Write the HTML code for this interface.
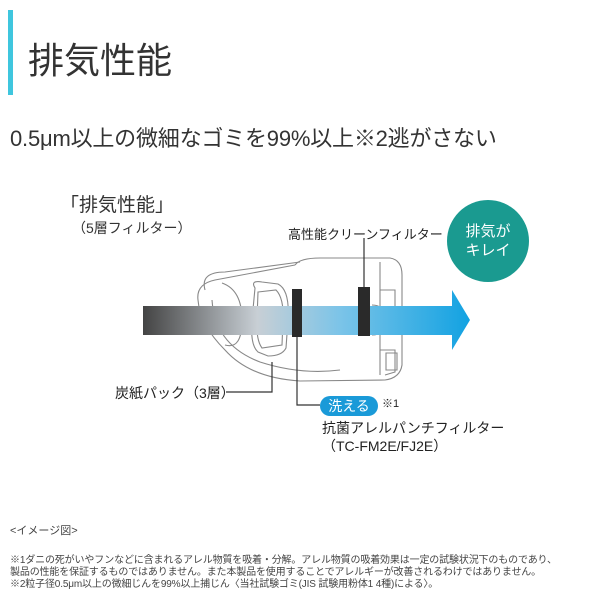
<!DOCTYPE html><html><head><meta charset="utf-8"><style>
body{margin:0;width:600px;height:600px;background:#fff;overflow:hidden;position:relative;font-family:"Liberation Sans","Noto Sans CJK JP",sans-serif;color:#222}
.t{position:absolute;white-space:nowrap}
</style></head><body>
<div style="position:absolute;left:8px;top:10px;width:5px;height:85px;background:#3fc6de"></div>
<div class="t" style="left:28px;top:32px;font-size:36px;color:#333">排気性能</div>
<div class="t" style="left:10px;top:121px;font-size:22px;color:#333;letter-spacing:-0.2px">0.5μm以上の微細なゴミを99%以上※2逃がさない</div>
<div class="t" style="left:60px;top:190px;font-size:19px;color:#333">「排気性能」</div>
<div class="t" style="left:72px;top:218px;font-size:14px;color:#333">（5層フィルター）</div>
<div class="t" style="left:288px;top:224px;font-size:13px;color:#222">高性能クリーンフィルター</div>
<div style="position:absolute;left:447px;top:200px;width:82px;height:82px;border-radius:50%;background:#1a9a90"></div>
<div class="t" style="left:447px;top:222px;width:82px;text-align:center;font-size:15px;color:#fff;line-height:19px">排気が<br>キレイ</div>
<svg style="position:absolute;left:0;top:0" width="600" height="600">
<defs><linearGradient id="g" x1="143" x2="470" gradientUnits="userSpaceOnUse">
<stop offset="0" stop-color="#444"/><stop offset="0.35" stop-color="#c8cfd5"/><stop offset="0.6" stop-color="#7cc4e8"/><stop offset="1" stop-color="#12a2e2"/></linearGradient></defs>
<g fill="none" stroke="#888" stroke-width="1.1">
<path d="M295 265 Q300 258 320 258 L390 258 Q402 260 402 275 L402 365 Q400 378 385 380 L300 381 Q250 378 225 350 Q200 325 198 300 Q196 284 215 280 L295 265"/>
<path d="M205 290 Q200 272 225 272 L300 262"/>
<path d="M212 300 Q215 345 260 362 Q300 375 340 370"/>
<path d="M222 283 Q242 290 242 320 Q242 350 225 345"/>
<path d="M255 288 Q250 280 262 282 L278 284 Q290 290 288 320 L286 348 Q282 356 268 356 L258 352 Q250 345 252 320 Z"/>
<path d="M258 292 L276 290 Q284 298 283 320 L282 345 L262 348 Q256 340 257 320 Z"/>
<path d="M380 290 L395 290 L395 306 M380 350 L395 350 L395 372 L385 375"/>
<path d="M372 305 Q385 305 385 320 Q385 335 372 335"/>
<path d="M386 353 L397 353 L397 370 L386 370 Z"/>
<path d="M380 262 L380 375"/>
</g>
<polygon points="143,306 452,306 452,290 470,320 452,350 452,335 143,335" fill="url(#g)"/>
<rect x="292" y="289" width="10" height="48" fill="#2a2a2a"/>
<rect x="358" y="287" width="12" height="49" fill="#2a2a2a"/>
<g stroke="#333" stroke-width="1.2" fill="none">
<path d="M364 238 L364 287"/>
<path d="M297 337 L297 405 L320 405"/>
<path d="M272 362 L272 392 L226 392"/>
</g>
</svg>
<div class="t" style="left:115px;top:383px;font-size:14px">炭紙パック（3層）</div>
<div style="position:absolute;left:320px;top:396px;width:58px;height:20px;border-radius:10px;background:#1a9ad8;color:#fff;font-size:14px;text-align:center;line-height:20px">洗える</div>
<div class="t" style="left:382px;top:395px;font-size:11px">※1</div>
<div class="t" style="left:322px;top:418px;font-size:14px">抗菌アレルパンチフィルター</div>
<div class="t" style="left:322px;top:436px;font-size:14px">（TC-FM2E/FJ2E）</div>
<div class="t" style="left:10px;top:522px;font-size:11px;color:#444">&lt;イメージ図&gt;</div>
<div class="t" style="left:10px;top:555px;font-size:10px;line-height:12px;color:#444;letter-spacing:-0.15px">※1ダニの死がいやフンなどに含まれるアレル物質を吸着・分解。アレル物質の吸着効果は一定の試験状況下のものであり、<br>製品の性能を保証するものではありません。また本製品を使用することでアレルギーが改善されるわけではありません。<br>※2粒子径0.5μm以上の微細じんを99%以上捕じん〈当社試験ゴミ(JIS 試験用粉体1 4種)による〉。</div>
</body></html>
